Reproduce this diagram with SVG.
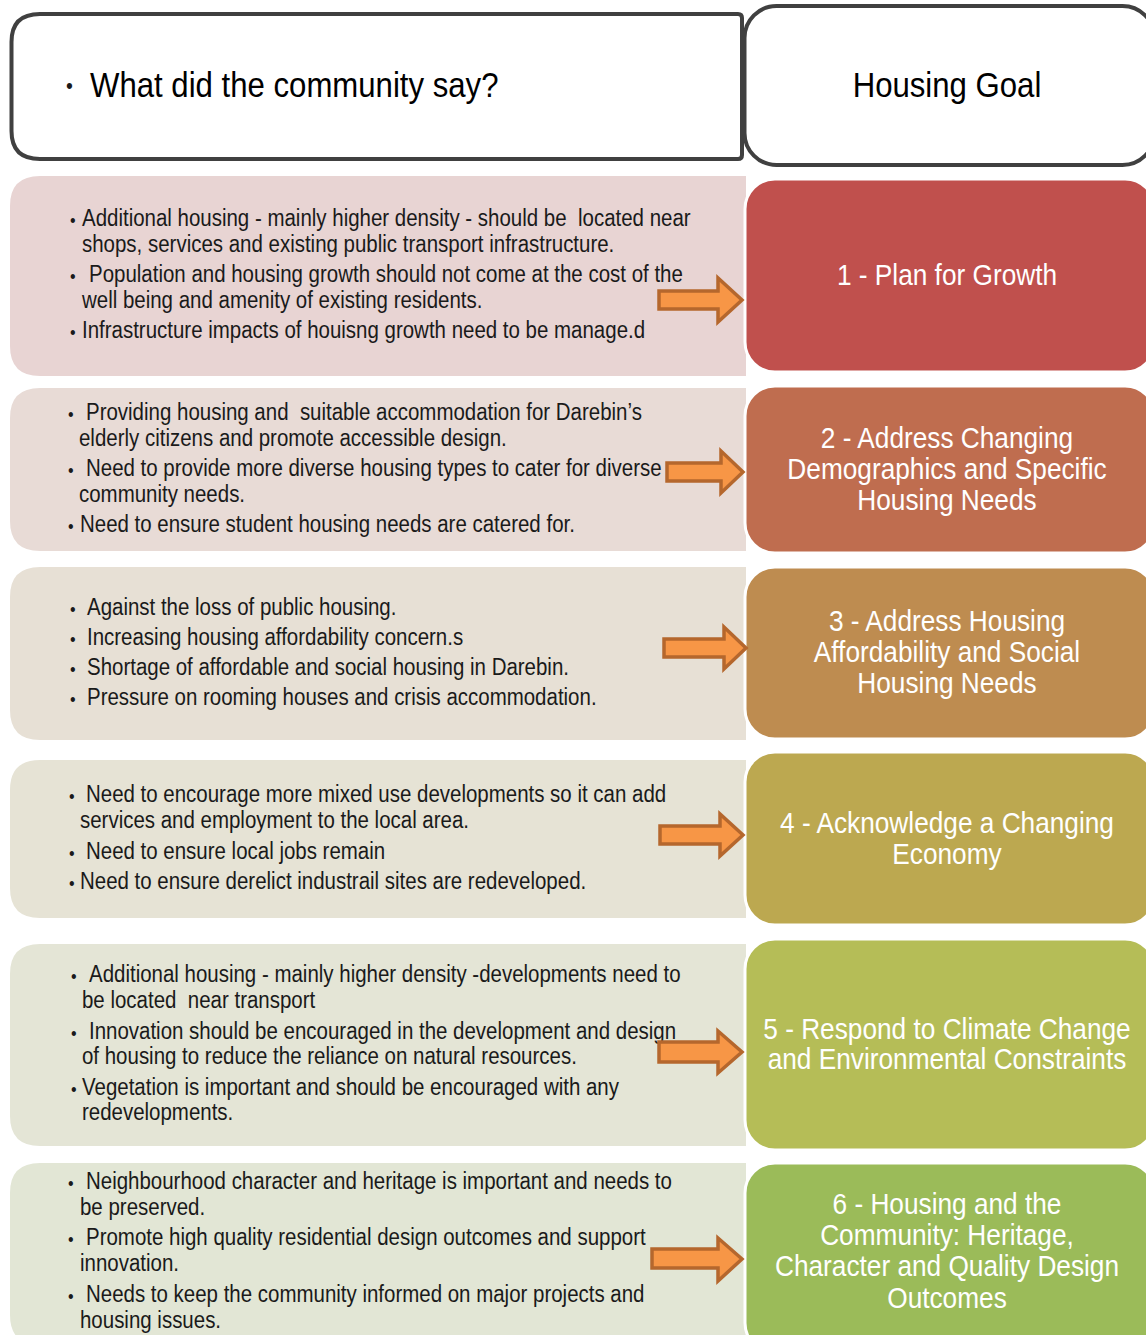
<svg xmlns="http://www.w3.org/2000/svg" width="1146" height="1335" viewBox="0 0 1146 1335">
<style>
.hdr{fill:#fff;stroke:#404040;stroke-width:4}
.t{font-family:"Liberation Sans",Arial,sans-serif;font-size:23px;fill:#1a1a1a;white-space:pre}
.b{font-family:"Liberation Sans",Arial,sans-serif;font-size:18px;fill:#1a1a1a}
.h{font-family:"Liberation Sans",Arial,sans-serif;font-size:35px;fill:#000}
.g{font-family:"Liberation Sans",Arial,sans-serif;font-size:29px;fill:#fff;text-anchor:middle}
.goal{stroke:#fff;stroke-width:3}
.arrow{fill:#f79646;stroke:#b5672d;stroke-width:3.5}
</style>
<rect width="1146" height="1335" fill="#fff"/>
<g id="header-community">
<path class="hdr" d="M40,14 H738 Q742,14 742,18 V155 Q742,159 738,159 H40 Q11.5,159 11.5,131 V42 Q11.5,14 40,14 Z"/>
<g transform="scale(0.89,1)">
<text class="b" x="74.16" y="93" style="font-size:22px">•</text>
<text class="h" x="101.12" y="97">What did the community say?</text>
</g>
</g>
<g id="header-goal">
<rect class="hdr" x="744.5" y="6" width="410" height="159" rx="32"/>
<g transform="scale(0.89,1)">
<text class="h" x="1064.04" y="97" text-anchor="middle">Housing Goal</text>
</g>
</g>

<g id="row1-community">
<path d="M40,176 H746 V376 H40 Q10,376 10,346 V206 Q10,176 40,176 Z" fill="#e8d4d3"/>
<g transform="scale(0.89,1)">
<text class="b" x="78.65" y="227">•</text><text class="t" x="92.13" y="226">Additional housing - mainly higher density - should be  located near</text>
<text class="t" x="92.13" y="252">shops, services and existing public transport infrastructure.</text>
<text class="b" x="78.65" y="283">•</text><text class="t" x="100" y="282">Population and housing growth should not come at the cost of the</text>
<text class="t" x="92.13" y="308">well being and amenity of existing residents.</text>
<text class="b" x="78.65" y="339">•</text><text class="t" x="92.13" y="338">Infrastructure impacts of houisng growth need to be manage.d</text>
</g>
</g>
<g id="row1-goal">
<rect class="goal" x="745" y="179" width="410" height="193" rx="30" fill="#c0504d"/>
<g transform="scale(0.905,1)">
<text class="g" x="1046.41" y="285">1 - Plan for Growth</text>
</g>
</g>

<g id="row2-community">
<path d="M40,388 H746 V551 H40 Q10,551 10,521 V418 Q10,388 40,388 Z" fill="#e8dbd6"/>
<g transform="scale(0.89,1)">
<text class="b" x="76.40" y="421">•</text><text class="t" x="96.63" y="420">Providing housing and  suitable accommodation for Darebin’s</text>
<text class="t" x="88.76" y="446">elderly citizens and promote accessible design.</text>
<text class="b" x="76.40" y="477">•</text><text class="t" x="96.63" y="476">Need to provide more diverse housing types to cater for diverse</text>
<text class="t" x="88.76" y="502">community needs.</text>
<text class="b" x="76.40" y="533">•</text><text class="t" x="89.89" y="532">Need to ensure student housing needs are catered for.</text>
</g>
</g>
<g id="row2-goal">
<rect class="goal" x="745" y="386" width="410" height="167" rx="30" fill="#bf6d4f"/>
<g transform="scale(0.905,1)">
<text class="g" x="1046.41" y="448">2 - Address Changing</text>
<text class="g" x="1046.41" y="479">Demographics and Specific</text>
<text class="g" x="1046.41" y="510">Housing Needs</text>
</g>
</g>

<g id="row3-community">
<path d="M40,567 H746 V740 H40 Q10,740 10,710 V597 Q10,567 40,567 Z" fill="#e7e0d5"/>
<g transform="scale(0.89,1)">
<text class="b" x="78.65" y="616">•</text><text class="t" x="97.75" y="615">Against the loss of public housing.</text>
<text class="b" x="78.65" y="646">•</text><text class="t" x="97.75" y="645">Increasing housing affordability concern.s</text>
<text class="b" x="78.65" y="676">•</text><text class="t" x="97.75" y="675">Shortage of affordable and social housing in Darebin.</text>
<text class="b" x="78.65" y="706">•</text><text class="t" x="97.75" y="705">Pressure on rooming houses and crisis accommodation.</text>
</g>
</g>
<g id="row3-goal">
<rect class="goal" x="745" y="567" width="410" height="172" rx="30" fill="#be8c50"/>
<g transform="scale(0.905,1)">
<text class="g" x="1046.41" y="631">3 - Address Housing</text>
<text class="g" x="1046.41" y="662">Affordability and Social</text>
<text class="g" x="1046.41" y="693">Housing Needs</text>
</g>
</g>

<g id="row4-community">
<path d="M40,760 H746 V918 H40 Q10,918 10,888 V790 Q10,760 40,760 Z" fill="#e6e3d5"/>
<g transform="scale(0.89,1)">
<text class="b" x="77.53" y="803">•</text><text class="t" x="96.63" y="802">Need to encourage more mixed use developments so it can add</text>
<text class="t" x="89.89" y="828">services and employment to the local area.</text>
<text class="b" x="77.53" y="860">•</text><text class="t" x="96.63" y="859">Need to ensure local jobs remain</text>
<text class="b" x="77.53" y="890">•</text><text class="t" x="89.89" y="889">Need to ensure derelict industrail sites are redeveloped.</text>
</g>
</g>
<g id="row4-goal">
<rect class="goal" x="745" y="752" width="410" height="173" rx="30" fill="#bca850"/>
<g transform="scale(0.905,1)">
<text class="g" x="1046.41" y="833">4 - Acknowledge a Changing</text>
<text class="g" x="1046.41" y="864">Economy</text>
</g>
</g>

<g id="row5-community">
<path d="M40,944 H746 V1146 H40 Q10,1146 10,1116 V974 Q10,944 40,944 Z" fill="#e4e5d6"/>
<g transform="scale(0.89,1)">
<text class="b" x="79.78" y="983">•</text><text class="t" x="100" y="982">Additional housing - mainly higher density -developments need to</text>
<text class="t" x="92.13" y="1008">be located  near transport</text>
<text class="b" x="79.78" y="1040">•</text><text class="t" x="100" y="1039">Innovation should be encouraged in the development and design</text>
<text class="t" x="92.13" y="1064">of housing to reduce the reliance on natural resources.</text>
<text class="b" x="79.78" y="1096">•</text><text class="t" x="92.13" y="1095">Vegetation is important and should be encouraged with any</text>
<text class="t" x="92.13" y="1120">redevelopments.</text>
</g>
</g>
<g id="row5-goal">
<rect class="goal" x="745" y="939" width="410" height="211" rx="30" fill="#b5bd57"/>
<g transform="scale(0.905,1)">
<text class="g" x="1046.41" y="1039">5 - Respond to Climate Change</text>
<text class="g" x="1046.41" y="1069">and Environmental Constraints</text>
</g>
</g>

<g id="row6-community">
<path d="M40,1163 H746 V1345 H40 Q10,1345 10,1315 V1193 Q10,1163 40,1163 Z" fill="#e2e6d5"/>
<g transform="scale(0.89,1)">
<text class="b" x="76.40" y="1190">•</text><text class="t" x="96.63" y="1189">Neighbourhood character and heritage is important and needs to</text>
<text class="t" x="89.89" y="1215">be preserved.</text>
<text class="b" x="76.40" y="1246">•</text><text class="t" x="96.63" y="1245">Promote high quality residential design outcomes and support</text>
<text class="t" x="89.89" y="1271">innovation.</text>
<text class="b" x="76.40" y="1303">•</text><text class="t" x="96.63" y="1302">Needs to keep the community informed on major projects and</text>
<text class="t" x="89.89" y="1328">housing issues.</text>
</g>
</g>
<g id="row6-goal">
<rect class="goal" x="745" y="1163" width="410" height="190" rx="30" fill="#9bbb59"/>
<g transform="scale(0.905,1)">
<text class="g" x="1046.41" y="1214">6 - Housing and the</text>
<text class="g" x="1046.41" y="1245">Community: Heritage,</text>
<text class="g" x="1046.41" y="1276">Character and Quality Design</text>
<text class="g" x="1046.41" y="1308">Outcomes</text>
</g>
</g>

<g id="connectors">
<path class="arrow" d="M659,291 H718 V278 L742,300 L718,322 V309 H659 Z"/>
<path class="arrow" d="M667,463 H721 V451 L743,472 L721,493 V481 H667 Z"/>
<path class="arrow" d="M664,639 H724 V627 L746,648 L724,669 V657 H664 Z"/>
<path class="arrow" d="M660,826 H720 V814 L743,835 L720,856 V844 H660 Z"/>
<path class="arrow" d="M659,1042 H718 V1031 L742,1052 L718,1073 V1062 H659 Z"/>
<path class="arrow" d="M652,1249 H718 V1238 L742,1259 L718,1281 V1268 H652 Z"/>
</g>
</svg>
